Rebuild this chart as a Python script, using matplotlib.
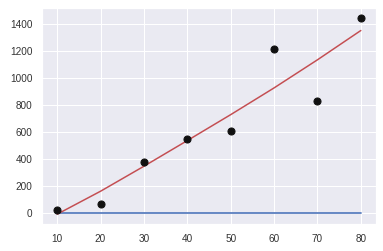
import matplotlib
matplotlib.use("Agg")
import matplotlib.pyplot as plt
import seaborn as sns

sns.set_theme(style="darkgrid")
plt.rcParams['font.family'] = ['Liberation Sans', 'DejaVu Sans']

x_points = [10, 20, 30, 40, 50, 60, 70, 80]
y_points = [25, 69, 380, 553, 610, 1217, 832, 1447]
fit_x = [10, 20, 30, 40, 50, 60, 70, 80]
fit_y = [-7, 163, 348, 538, 730, 928, 1136, 1353]
zero_x = [10, 80]
zero_y = [0, 0]

fig = plt.figure(figsize=(383/72, 251/72), dpi=72)
ax = fig.add_axes([42/383, 27/251, 334/383, 216/251])
ax.plot(zero_x, zero_y, color="#5a7fbf", linewidth=1.8)
ax.plot(fit_x, fit_y, color="#c44e52", linewidth=1.5)
ax.scatter(x_points, y_points, color="#111111", s=50, zorder=3)
ax.set_xticks([10, 20, 30, 40, 50, 60, 70, 80])
ax.tick_params(labelsize=10, labelcolor="#333333")
fig.savefig("out.png", dpi=72)
